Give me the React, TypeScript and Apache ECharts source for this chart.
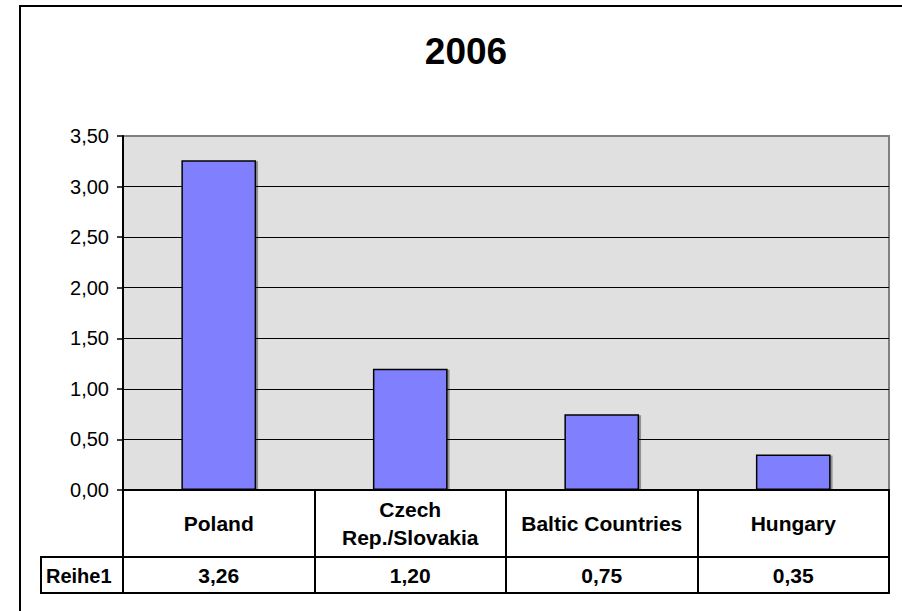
import React, { useEffect, useRef } from "react";
import * as echarts from "echarts";

const titleText = "2006";
const categories = ["Poland", "Czech\nRep./Slovakia", "Baltic Countries", "Hungary"];
const seriesName = "Reihe1";
const values = [3.26, 1.2, 0.75, 0.35];
const yMin = 0;
const yMax = 3.5;
const yInterval = 0.5;

const FONT = 'Arial, "Liberation Sans", sans-serif';
const fmt = (v: number) => v.toFixed(2).replace(".", ",");

export default function App() {
  const ref = useRef<HTMLDivElement>(null);
  useEffect(() => {
    if (!ref.current) return;
    const chart = echarts.init(ref.current, undefined, { renderer: "svg" });
    chart.setOption({
      animation: false,
      backgroundColor: "#ffffff",
      textStyle: { fontFamily: FONT },
      grid: {
        left: 123,
        right: 13,
        top: 136,
        bottom: 121,
        show: true,
        backgroundColor: "#E0E0E0",
        borderColor: "#808080",
        borderWidth: 2,
      },
      xAxis: [
        {
          type: "category",
          data: categories,
          position: "bottom",
          axisLine: { show: true, lineStyle: { color: "#000", width: 2 } },
          axisTick: { show: true, length: 67, inside: false, alignWithLabel: false, lineStyle: { color: "#000", width: 2 } },
          axisLabel: {
            interval: 0,
            margin: 33,
            verticalAlign: "middle",
            lineHeight: 28,
            color: "#000",
            fontFamily: FONT,
            fontSize: 21,
            fontWeight: "bold",
          },
          splitLine: { show: false },
          z: 5,
        },
        {
          type: "category",
          data: values.map(fmt),
          position: "bottom",
          offset: 67,
          axisLine: { show: true, lineStyle: { color: "#000", width: 2 } },
          axisTick: { show: true, length: 36, inside: false, alignWithLabel: false, lineStyle: { color: "#000", width: 2 } },
          axisLabel: {
            interval: 0,
            margin: 18,
            verticalAlign: "middle",
            color: "#000",
            fontFamily: FONT,
            fontSize: 21,
            fontWeight: "bold",
          },
          splitLine: { show: false },
        },
      ],
      yAxis: {
        type: "value",
        min: yMin,
        max: yMax,
        interval: yInterval,
        axisLine: { show: true, lineStyle: { color: "#000", width: 2 } },
        axisTick: { show: true, length: 6, inside: false, lineStyle: { color: "#000", width: 1.5 } },
        axisLabel: {
          margin: 14,
          color: "#000",
          fontFamily: FONT,
          fontSize: 20,
          formatter: (v: number) => fmt(v),
        },
        splitLine: { show: true, showMaxLine: false, lineStyle: { color: "#000", width: 1.2 } },
      },
      series: [
        {
          name: seriesName,
          type: "bar",
          data: values,
          xAxisIndex: 0,
          barWidth: "39%",
          itemStyle: {
            color: "#8080FF",
            borderColor: "#000",
            borderWidth: 1.5,
            shadowColor: "rgba(0,0,0,0.35)",
            shadowBlur: 0,
            shadowOffsetX: 2,
            shadowOffsetY: 1,
          },
          z: 3,
        },
      ],
      graphic: [
        {
          type: "rect",
          shape: { x: 20, y: 6, width: 920, height: 640 },
          style: { fill: "none", stroke: "#000", lineWidth: 2 },
          silent: true,
        },
        {
          type: "text",
          x: 466,
          y: 51,
          style: {
            text: titleText,
            fill: "#000",
            font: `bold 37px ${FONT}`,
            textAlign: "center",
            textVerticalAlign: "middle",
          },
        },
        {
          type: "polyline",
          shape: { points: [[123, 557], [41, 557], [41, 593], [890, 593]] },
          style: { fill: "none", stroke: "#000", lineWidth: 2 },
          silent: true,
        },
        {
          type: "text",
          x: 46,
          y: 576,
          style: {
            text: seriesName,
            fill: "#000",
            font: `bold 20px ${FONT}`,
            textAlign: "left",
            textVerticalAlign: "middle",
          },
        },
      ],
    });
    return () => chart.dispose();
  }, []);
  return (
    <div
      ref={ref}
      style={{ position: "fixed", left: 0, top: 0, width: 902, height: 611 }}
    />
  );
}
